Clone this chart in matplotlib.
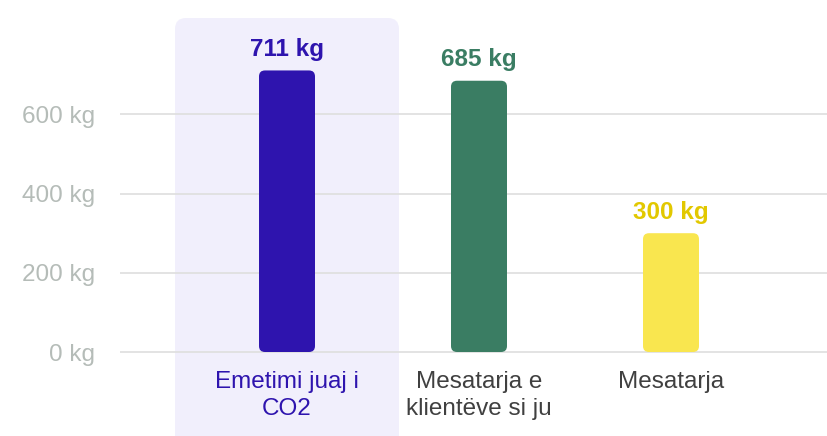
import matplotlib
matplotlib.use("Agg")
import matplotlib.pyplot as plt
from matplotlib.patches import FancyBboxPatch

categories = ["Emetimi juaj i\nCO2", "Mesatarja e\nklientëve si ju", "Mesatarja"]
values = [711, 685, 300]
value_labels = ["711 kg", "685 kg", "300 kg"]
yticks = [0, 200, 400, 600]
ytick_labels = ["0 kg", "200 kg", "400 kg", "600 kg"]

bar_colors = ["#2E14AE", "#3A7D63", "#F9E64F"]
label_colors = ["#2E14AE", "#3A7D63", "#E2C800"]
cat_colors = ["#2E14AE", "#404040", "#404040"]

plt.rcParams['font.family'] = ['Liberation Sans', 'DejaVu Sans']

W, H = 827, 436
fig = plt.figure(figsize=(W / 100, H / 100), dpi=100)
ax = fig.add_axes([120 / W, 0, 1 - 120 / W, 1])

xpx = 192.0            # px per category
ypx = 0.396            # px per kg
zero_y = 352
ax.set_xlim(-(287 - 120) / xpx, 2 + (827 - 671) / xpx)
ax.set_ylim(-(H - zero_y) / ypx, zero_y / ypx)

for s in ax.spines.values():
    s.set_visible(False)
ax.set_xticks([])
ax.set_yticks(yticks)
ax.set_yticklabels(ytick_labels, fontsize=17.5, color="#B5BCB8")
ax.tick_params(axis='y', length=0, pad=18)
ax.grid(axis='y', color="#E0E0E0", linewidth=1.3, zorder=0)
ax.set_axisbelow(True)

# highlight background behind first category
hw = 224 / xpx
rx = 11 / xpx
ry = 11 / ypx
hl = FancyBboxPatch((0 - hw / 2, -600), hw, (zero_y - 18) / ypx + 600,
                    boxstyle=f"round,pad=0,rounding_size={rx}",
                    mutation_aspect=ry / rx, facecolor="#F1EFFC",
                    edgecolor="none", zorder=0.5)
ax.add_patch(hl)

bw = 56 / xpx
brx = 6 / xpx
bry = 6 / ypx
for i, v in enumerate(values):
    p = FancyBboxPatch((i - bw / 2, 0), bw, v,
                       boxstyle=f"round,pad=0,rounding_size={brx}",
                       mutation_aspect=bry / brx, facecolor=bar_colors[i],
                       edgecolor="none", zorder=3)
    ax.add_patch(p)
    ax.text(i, v + 21 / ypx, value_labels[i], ha='center', va='center',
            fontsize=17.5, fontweight='bold', color=label_colors[i], zorder=4)
    ax.text(i, -19 / ypx, categories[i], ha='center', va='top',
            fontsize=17.5, color=cat_colors[i], linespacing=1.32, zorder=4)

fig.savefig("out.png", dpi=100)
